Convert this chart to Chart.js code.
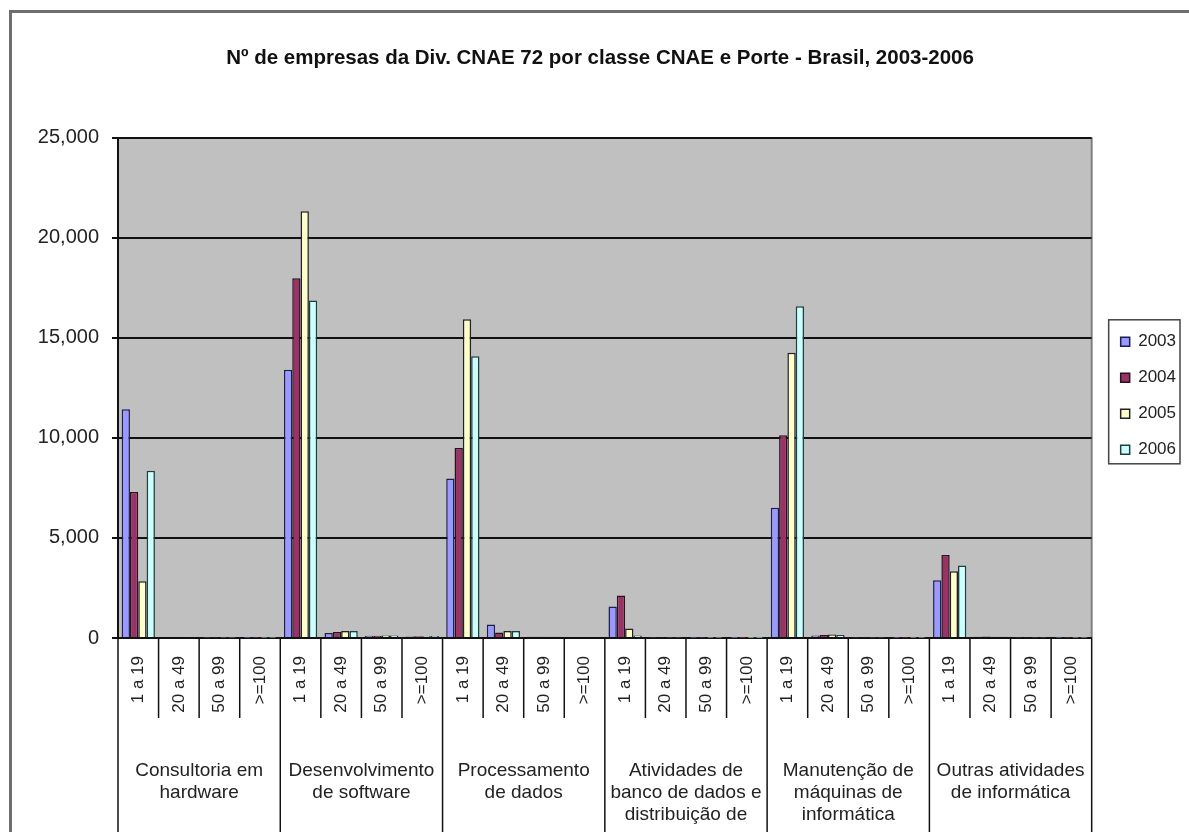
<!DOCTYPE html>
<html>
<head>
<meta charset="utf-8">
<title>Nº de empresas da Div. CNAE 72</title>
<script src="https://cdn.jsdelivr.net/npm/chart.js@4"></script>
<style>
  html, body { margin: 0; padding: 0; background: #fff; overflow: hidden; }
  #frame { position: absolute; left: 9px; top: 10px; width: 1300px; height: 900px;
    border-left: 3px solid #6e6e6e; border-top: 3px solid #6e6e6e; }
  #wrap { position: absolute; left: 0; top: 0; width: 1189px; height: 832px; }
</style>
</head>
<body>
<div id="frame"></div>
<div id="wrap"><canvas id="cnaeChart"></canvas></div>
<script>
'use strict';

// ********************* DATA *********************

let sizeLabels = ['1 a 19', '20 a 49', '50 a 99', '>=100'];

let groupNames = [
  ['Consultoria em', 'hardware'],
  ['Desenvolvimento', 'de software'],
  ['Processamento', 'de dados'],
  ['Atividades de', 'banco de dados e', 'distribuição de'],
  ['Manutenção de', 'máquinas de', 'informática'],
  ['Outras atividades', 'de informática']
];

let years = ['2003', '2004', '2005', '2006'];

// one value per (group, size), groups in the order above
let values2003 = [11430, 40, 15, 10, 13400, 250, 110, 80, 7970, 670, 60, 50, 1570, 20, 10, 5, 6510, 120, 30, 10, 2880, 60, 20, 10];
let values2004 = [7300, 40, 15, 10, 17970, 300, 110, 90, 9490, 280, 60, 50, 2120, 20, 10, 5, 10130, 150, 30, 10, 4150, 70, 20, 10];
let values2005 = [2830, 40, 15, 10, 21325, 350, 120, 90, 15930, 350, 60, 50, 470, 20, 10, 5, 14245, 180, 30, 10, 3340, 60, 20, 10];
let values2006 = [8360, 40, 15, 10, 16860, 350, 120, 100, 14075, 350, 60, 50, 130, 20, 10, 5, 16570, 150, 30, 10, 3620, 60, 20, 10];

let yTicks = [0, 5000, 10000, 15000, 20000, 25000];

let fillColors = ['#9999ff', '#993366', '#ffffcc', '#ccffff'];
let edgeColors = ['#1e1e50', '#2a1020', '#222222', '#1f3f3f'];

// ********************* HELPERS *********************

let fontFamily = '"Liberation Sans", Arial, sans-serif';

let categoryLabels = [];
for (let g = 0; g < groupNames.length; g++) {
  for (let s = 0; s < sizeLabels.length; s++) {
    categoryLabels.push(sizeLabels[s]);
  }
}

let allValues = [values2003, values2004, values2005, values2006];
let datasets = [];
for (let i = 0; i < years.length; i++) {
  datasets.push({
    label: years[i],
    data: allValues[i],
    backgroundColor: fillColors[i],
    borderColor: edgeColors[i],
    borderWidth: 1.5,
    categoryPercentage: 0.82,
    barPercentage: 1.0
  });
}

// ********************* PLUGINS *********************

// grey plot area with a darker right edge
let plotBackground = {
  id: 'plotBackground',
  beforeDraw(chart) {
    let a = chart.chartArea;
    let c = chart.ctx;
    c.save();
    c.fillStyle = '#c0c0c0';
    c.fillRect(a.left, a.top, a.right - a.left, a.bottom - a.top);
    c.strokeStyle = '#808080';
    c.lineWidth = 2;
    c.beginPath();
    c.moveTo(a.right, a.top);
    c.lineTo(a.right, a.bottom);
    c.stroke();
    c.restore();
  }
};

// vertical separators of the two-level category axis
let categorySeparators = {
  id: 'categorySeparators',
  afterDraw(chart) {
    let xs = chart.scales.x;
    let c = chart.ctx;
    let n = categoryLabels.length;
    c.save();
    c.strokeStyle = '#111';
    c.lineWidth = 1.5;
    for (let i = 0; i <= n; i++) {
      let px = xs.getPixelForValue(i - 0.5);
      let bottom = (i % sizeLabels.length === 0) ? chart.height : xs.bottom;
      c.beginPath();
      c.moveTo(px, xs.top);
      c.lineTo(px, bottom);
      c.stroke();
    }
    c.restore();
  }
};

// nudge title and legend, and frame the legend
let legendFrame = {
  id: 'legendFrame',
  afterLayout(chart) {
    let lg = chart.legend;
    lg.left += 10; lg.right += 10;
    lg.top += 8; lg.bottom += 8;
    let tb = chart.titleBlock;
    tb.left += 12; tb.right += 12;
  },
  afterDraw(chart) {
    let boxes = chart.legend.legendHitBoxes;
    if (!boxes || !boxes.length) return;
    let first = boxes[0];
    let last = boxes[boxes.length - 1];
    let right = 0;
    for (let b of boxes) right = Math.max(right, b.left + b.width);
    let top = first.top + first.height / 2 - 22;
    let bottom = last.top + last.height / 2 + 14;
    let c = chart.ctx;
    c.save();
    c.strokeStyle = '#444';
    c.lineWidth = 1.5;
    c.strokeRect(first.left - 12, top, right - first.left + 16, bottom - top);
    c.restore();
  }
};

// ********************* CHART *********************

let ctx = document.getElementById('cnaeChart');

let cnaeChartObj = {
  type: 'bar',
  data: {
    labels: categoryLabels,
    datasets: datasets
  },
  options: {
    responsive: true,
    maintainAspectRatio: false,
    animation: false,
    layout: { padding: { left: 0, right: 13, top: 0, bottom: 0 } },
    plugins: {
      title: {
        display: true,
        text: 'Nº de empresas da Div. CNAE 72 por classe CNAE e Porte - Brasil, 2003-2006',
        color: '#111',
        font: { family: fontFamily, size: 20.5, weight: 'bold', lineHeight: 1.2 },
        padding: { top: 46, bottom: 67 }
      },
      legend: {
        position: 'right',
        fullSize: false,
        labels: {
          color: '#222',
          font: { family: fontFamily, size: 17 },
          boxWidth: 9,
          boxHeight: 9,
          padding: 19,
          useBorderRadius: false
        }
      },
      tooltip: { enabled: false }
    },
    scales: {
      x: {
        position: 'bottom',
        grid: { display: false },
        border: { display: true, color: '#111', width: 2 },
        ticks: {
          autoSkip: false,
          minRotation: 90,
          maxRotation: 90,
          padding: 10,
          color: '#222',
          font: { family: fontFamily, size: 17 }
        },
        afterFit(scale) { scale.height = 80; }
      },
      x2: {
        type: 'category',
        position: 'bottom',
        labels: groupNames,
        offset: true,
        grid: { display: false, drawTicks: false },
        border: { display: false },
        ticks: {
          autoSkip: false,
          maxRotation: 0,
          minRotation: 0,
          padding: 42,
          color: '#222',
          font: { family: fontFamily, size: 19, lineHeight: 1.16 }
        },
        afterFit(scale) { scale.height = 114; }
      },
      y: {
        min: yTicks[0],
        max: yTicks[yTicks.length - 1],
        afterBuildTicks(scale) {
          scale.ticks = yTicks.map(v => ({ value: v }));
        },
        grid: { color: '#111', lineWidth: 2, tickLength: 6, drawTicks: true },
        border: { display: true, color: '#111', width: 2 },
        ticks: {
          padding: 13,
          color: '#222',
          font: { family: fontFamily, size: 20 },
          callback: v => v.toLocaleString('en-US')
        },
        afterFit(scale) { scale.width = 118; }
      }
    }
  },
  plugins: [plotBackground, categorySeparators, legendFrame]
};

new Chart(ctx, cnaeChartObj);
</script>
</body>
</html>
